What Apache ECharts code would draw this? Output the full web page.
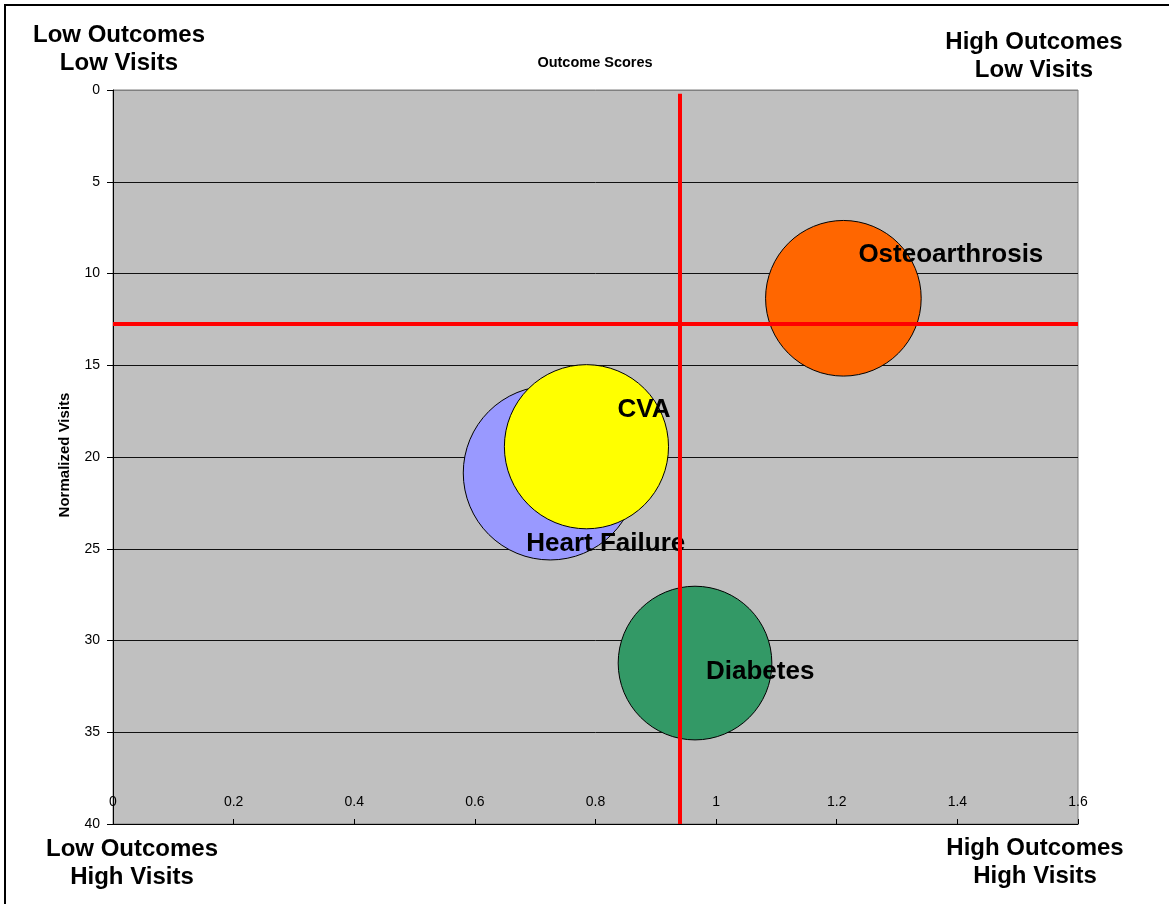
<!DOCTYPE html>
<html>
<head>
<meta charset="utf-8">
<title>Outcome Scores vs Normalized Visits</title>
<script src="https://cdn.jsdelivr.net/npm/echarts@6/dist/echarts.min.js"></script>
<style>
  html, body { margin: 0; padding: 0; background: #ffffff; }
  #chart { width: 1169px; height: 904px; }
</style>
</head>
<body>
<div id="chart"></div>
<script>
// Conditions plotted as bubbles: outcome score (x) against normalized visits (y)
const conditions   = ['Osteoarthrosis', 'Heart Failure', 'CVA', 'Diabetes'];
const outcomeScore = [1.211, 0.725, 0.785, 0.965];
const visits       = [11.35, 20.87, 19.44, 31.23];
const bubbleSize   = [80, 100, 89, 78];
const bubbleColors = ['#FF6600', '#9999FF', '#FFFF00', '#339966'];
// Where each condition's name sits relative to its bubble centre (px)
const labelOffsets = [[15, -43], [-24, 71], [31, -37], [11, 9]];

// Average reference lines splitting the chart into quadrants
const avgOutcome = 0.94;
const avgVisits  = 12.75;

// Axis ranges and ticks
const xTicks = { min: 0, max: 1.6, interval: 0.2 };
const yTicks = { min: 0, max: 40, interval: 5 };

// Quadrant captions
const quadrantLabels = [
  { text: 'Low Outcomes\nLow Visits',   x: 119,  y: 49 },
  { text: 'High Outcomes\nLow Visits',  x: 1034, y: 56 },
  { text: 'Low Outcomes\nHigh Visits',  x: 132,  y: 863 },
  { text: 'High Outcomes\nHigh Visits', x: 1035, y: 862 }
];

const FONT = '"Liberation Sans", Arial, Helvetica, sans-serif';
const maxSize = Math.max(...bubbleSize);
const maxDiameter = 174;

const bubbleData = conditions.map((name, i) => ({
  name: name,
  value: [outcomeScore[i], visits[i], bubbleSize[i]],
  itemStyle: { color: bubbleColors[i] },
  label: { offset: labelOffsets[i] }
}));

// Gridline colours: the top edge of the plot stays grey, inner lines dark
const gridLineColors = ['#808080'].concat(new Array(8).fill('#111'));

const chart = echarts.init(document.getElementById('chart'), null, { renderer: 'canvas' });

chart.setOption({
  animation: false,
  backgroundColor: '#ffffff',
  textStyle: { fontFamily: FONT },
  grid: {
    left: 113, top: 90, width: 965, height: 734,
    show: true,
    backgroundColor: '#C0C0C0',
    borderColor: '#808080',
    borderWidth: 1
  },
  xAxis: {
    type: 'value',
    min: xTicks.min, max: xTicks.max, interval: xTicks.interval,
    position: 'bottom',
    axisLine: { show: true, onZero: false, lineStyle: { color: '#000', width: 1 } },
    axisTick: { show: true, inside: true, length: 5, lineStyle: { color: '#000' } },
    axisLabel: {
      inside: true, margin: 15,
      color: '#000', fontSize: 14, fontFamily: FONT,
      showMinLabel: true, showMaxLabel: true
    },
    splitLine: { show: false }
  },
  yAxis: {
    type: 'value',
    inverse: true,
    min: yTicks.min, max: yTicks.max, interval: yTicks.interval,
    axisLine: { show: true, onZero: false, lineStyle: { color: '#000', width: 1 } },
    axisTick: { show: true, inside: false, length: 6, lineStyle: { color: '#000' } },
    axisLabel: { margin: 13, color: '#000', fontSize: 14, fontFamily: FONT },
    splitLine: { show: true, lineStyle: { color: gridLineColors, width: 1 } }
  },
  series: [
    {
      type: 'scatter',
      data: bubbleData,
      symbol: 'circle',
      symbolSize: v => maxDiameter * Math.sqrt(v[2] / maxSize),
      itemStyle: { borderColor: '#000', borderWidth: 1, opacity: 1 },
      label: {
        show: true,
        position: 'inside',
        align: 'left',
        verticalAlign: 'middle',
        formatter: p => p.name,
        color: '#000',
        fontSize: 26,
        fontWeight: 'bold',
        fontFamily: FONT
      },
      emphasis: { disabled: true },
      z: 2
    },
    {
      type: 'scatter',
      data: [],
      silent: true,
      z: 3,
      markLine: {
        silent: true,
        symbol: ['none', 'none'],
        label: { show: false },
        lineStyle: { color: '#FF0000', width: 4, type: 'solid' },
        data: [
          [{ coord: [avgOutcome, 0.2] }, { coord: [avgOutcome, yTicks.max] }],
          [{ coord: [xTicks.min, avgVisits] }, { coord: [xTicks.max, avgVisits] }]
        ]
      }
    }
  ],
  graphic: [
    {
      type: 'rect',
      shape: { x: 5, y: 5, width: 1200, height: 1000 },
      style: { fill: 'none', stroke: '#000', lineWidth: 2 },
      silent: true, z: 10
    },
    {
      type: 'text',
      x: 595, y: 63,
      style: {
        text: 'Outcome Scores',
        fill: '#000',
        font: 'bold 14.5px ' + FONT,
        textAlign: 'center',
        textVerticalAlign: 'middle'
      }
    },
    {
      type: 'text',
      x: 65, y: 455,
      rotation: Math.PI / 2,
      style: {
        text: 'Normalized Visits',
        fill: '#000',
        font: 'bold 15px ' + FONT,
        textAlign: 'center',
        textVerticalAlign: 'middle'
      }
    }
  ].concat(quadrantLabels.map(q => ({
    type: 'text',
    x: q.x, y: q.y,
    style: {
      text: q.text,
      fill: '#000',
      font: 'bold 24px ' + FONT,
      lineHeight: 28,
      textAlign: 'center',
      textVerticalAlign: 'middle'
    }
  })))
});
</script>
</body>
</html>
